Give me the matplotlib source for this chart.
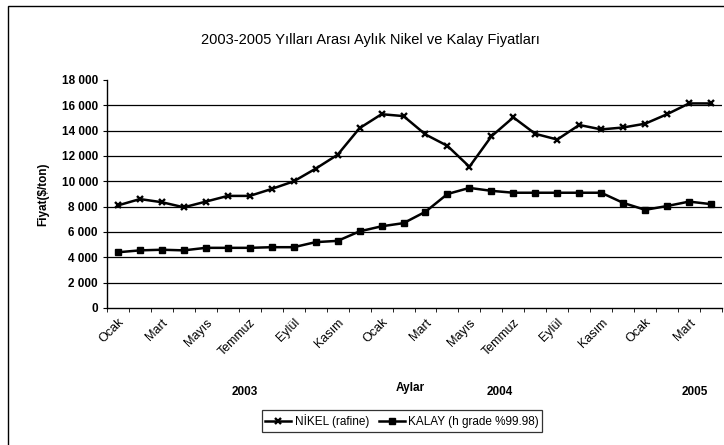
import matplotlib.pyplot as plt
from matplotlib.patches import Rectangle

plt.rcParams['font.family'] = ['Liberation Sans', 'DejaVu Sans']

# Aylık fiyatlar ($/ton), Ocak 2003 - Nisan 2005
aylar = ['Ocak', 'Şubat', 'Mart', 'Nisan', 'Mayıs', 'Haziran', 'Temmuz', 'Ağustos',
         'Eylül', 'Ekim', 'Kasım', 'Aralık'] * 2 + ['Ocak', 'Şubat', 'Mart', 'Nisan']
nikel = [8100, 8600, 8350, 7950, 8400, 8850, 8850, 9400, 10000, 11000, 12100, 14200,
         15300, 15150, 13700, 12800, 11150, 13550, 15050, 13750, 13300, 14450, 14100,
         14250, 14550, 15300, 16150, 16150]
kalay = [4400, 4550, 4600, 4550, 4750, 4750, 4750, 4800, 4800, 5200, 5300, 6050,
         6450, 6700, 7600, 9000, 9480, 9250, 9100, 9100, 9100, 9100, 9100, 8300,
         7750, 8050, 8400, 8200]
yillar = ['2003', '2004', '2005']
y_ticks = list(range(0, 18001, 2000))

fig = plt.figure(figsize=(7.24, 4.45), dpi=100)
# grafik çerçevesi
fig.patches.append(Rectangle((8 / 724, -0.05), 1.1, 0.05 + (445 - 6) / 445,
                             transform=fig.transFigure, fill=False,
                             edgecolor='black', linewidth=1))

ax = fig.add_axes([107 / 724, (445 - 308) / 445, 615 / 724, 228 / 445])
x = list(range(len(aylar)))

ax.plot(x, nikel, color='black', linewidth=1.8, marker='x', markersize=5,
        markeredgewidth=1.7, label='NİKEL (rafine)')
ax.plot(x, kalay, color='black', linewidth=1.8, marker='s', markersize=3.8,
        label='KALAY (h grade %99.98)')

ax.set_xlim(-0.5, len(aylar) - 0.5)
ax.set_ylim(0, 18000)
ax.set_yticks(y_ticks)
ax.set_yticklabels([f'{v:,}'.replace(',', ' ') for v in y_ticks], fontsize=8.5,
                   fontweight='bold')
for v in y_ticks[1:-1]:
    ax.axhline(v, color='black', linewidth=0.9, zorder=0)

ax.set_xticks(x[::2])
ax.set_xticklabels(aylar[::2], rotation=45, ha='right', rotation_mode='anchor',
                   fontsize=9)
ax.set_xticks([i - 0.5 for i in range(len(aylar) + 1)], minor=True)
ax.tick_params(axis='x', which='major', length=0, pad=6)
ax.tick_params(axis='x', which='minor', length=3, direction='out')
ax.tick_params(axis='y', length=3, direction='out')

for s in ['top', 'right']:
    ax.spines[s].set_visible(False)
ax.spines['left'].set_linewidth(1)
ax.spines['bottom'].set_linewidth(1)

ax.set_ylabel('Fiyat($/ton)', fontsize=8.5, fontweight='bold', labelpad=9)
fig.text(370 / 724, 1 - 40 / 445, '2003-2005 Yılları Arası Aylık Nikel ve Kalay Fiyatları',
         ha='center', va='center', fontsize=10.5)

# yıl etiketleri
for xp, t in zip([245, 500, 695], yillar):
    fig.text(xp / 724, 1 - 392 / 445, t, ha='center', va='center', fontsize=8.5,
             fontweight='bold')
fig.text(410 / 724, 1 - 388 / 445, 'Aylar', ha='center', va='center', fontsize=8.5,
         fontweight='bold')

leg = ax.legend(loc='center', bbox_to_anchor=(402 / 724, 1 - 421 / 445),
                bbox_transform=fig.transFigure, ncol=2, fontsize=8.5, frameon=True,
                fancybox=False, edgecolor='black', handlelength=2.2,
                handletextpad=0.3, columnspacing=0.8, borderpad=0.3)
leg.get_frame().set_linewidth(0.9)

fig.savefig('out.png', dpi=100)
